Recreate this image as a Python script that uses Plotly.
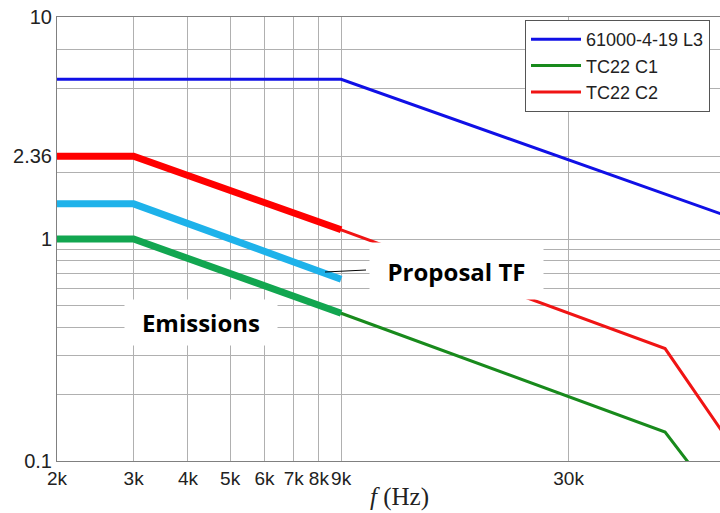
import plotly.graph_objects as go
import math

# ---------------- data ----------------
freq_L3 = [2000, 9000, 67000]
val_L3 = [5.24, 5.24, 1.30]

freq_C1 = [2000, 3000, 9000, 50000, 70000]
val_C1 = [1.0, 1.0, 0.463, 0.135, 0.057]

freq_C2 = [2000, 3000, 9000, 50000, 70000]
val_C2 = [2.36, 2.36, 1.10, 0.321, 0.123]

freq_emis = [2000, 3000, 9000]
val_emis_C1 = [1.0, 1.0, 0.463]
val_emis_C2 = [2.36, 2.36, 1.10]

freq_tf = [2000, 3000, 9000]
val_tf = [1.44, 1.44, 0.659]

x_tickvals = [2000, 3000, 4000, 5000, 6000, 7000, 8000, 9000, 30000]
x_ticktext = ["2k", "3k", "4k", "5k", "6k", "7k", "8k", "9k", "30k"]

y_tickvals = [0.1, 0.2, 0.3, 0.4, 0.5, 0.6, 0.7, 0.8, 0.9, 1, 2, 2.36, 4.77, 7.16, 10]
y_ticktext = ["0.1", "", "", "", "", "", "", "", "", "1", "", "2.36", "", "", "10"]

# ---------------- figure ----------------
fig = go.Figure()

fig.add_trace(go.Scatter(x=freq_L3, y=val_L3, mode="lines", name="61000-4-19 L3",
                         line=dict(color="#1010e6", width=3)))
fig.add_trace(go.Scatter(x=freq_C1, y=val_C1, mode="lines", name="TC22 C1",
                         line=dict(color="#188a1c", width=3)))
fig.add_trace(go.Scatter(x=freq_C2, y=val_C2, mode="lines", name="TC22 C2",
                         line=dict(color="#f01414", width=3)))

# thick overlays
fig.add_trace(go.Scatter(x=freq_emis, y=val_emis_C2, mode="lines", showlegend=False,
                         line=dict(color="#ff0000", width=7)))
fig.add_trace(go.Scatter(x=freq_tf, y=val_tf, mode="lines", showlegend=False,
                         line=dict(color="#1eb2ea", width=7)))
fig.add_trace(go.Scatter(x=freq_emis, y=val_emis_C1, mode="lines", showlegend=False,
                         line=dict(color="#12a650", width=7)))

W, H = 720, 513
ml, mr, mt, mb = 57, 0, 17, 52
pw = W - ml - mr
ph = H - mt - mb

x0 = math.log10(2000)
x1 = x0 + pw / 435.0

def px(xp):
    return (xp - ml) / pw

def py(yp):
    return (H - mb - yp) / ph

fig.update_layout(
    width=W, height=H,
    margin=dict(l=ml, r=mr, t=mt, b=mb, autoexpand=False),
    paper_bgcolor="white", plot_bgcolor="white",
    font=dict(family="Liberation Sans, Arial", size=19, color="#222222"),
    legend=dict(x=px(525), y=py(20), xanchor="left", yanchor="top",
                bgcolor="white", bordercolor="#555555", borderwidth=1,
                font=dict(size=18, color="#222222"), itemwidth=50,
                tracegroupgap=0),
    xaxis=dict(type="log", range=[x0, x1], tickvals=x_tickvals, ticktext=x_ticktext,
               tickangle=0,
               showgrid=True, gridcolor="#b0b0b0", gridwidth=1,
               showline=True, linecolor="#808080", linewidth=1, mirror=True,
               ticks="", zeroline=False, tickfont=dict(size=19, color="#222222")),
    yaxis=dict(type="log", range=[-1, 1], tickvals=y_tickvals, ticktext=y_ticktext,
               showgrid=True, gridcolor="#b0b0b0", gridwidth=1,
               showline=True, linecolor="#808080", linewidth=1, mirror=False,
               ticks="", zeroline=False, tickfont=dict(size=20, color="#222222")),
)

# pointer line from Proposal TF
fig.add_shape(type="line", xref="paper", yref="paper",
              x0=px(325), y0=py(272), x1=px(366), y1=py(270),
              line=dict(color="black", width=1))

fig.add_annotation(xref="paper", yref="paper", x=px(456), y=py(271),
                   xanchor="center", yanchor="middle",
                   text="<b>Proposal TF</b>", showarrow=False,
                   font=dict(family="Open Sans", size=24, color="black"),
                   bgcolor="white", width=173, height=56, borderpad=0)
fig.add_annotation(xref="paper", yref="paper", x=px(201), y=py(322),
                   xanchor="center", yanchor="middle",
                   text="<b>Emissions</b>", showarrow=False,
                   font=dict(family="Open Sans", size=24, color="black"),
                   bgcolor="white", width=152, height=45, borderpad=0)

fig.add_annotation(xref="paper", yref="paper", x=px(399), y=py(497),
                   xanchor="center", yanchor="middle",
                   text="<i>f</i> (Hz)", showarrow=False,
                   font=dict(family="Liberation Serif, DejaVu Serif", size=25, color="#222222"))

fig.write_html("out.html")
